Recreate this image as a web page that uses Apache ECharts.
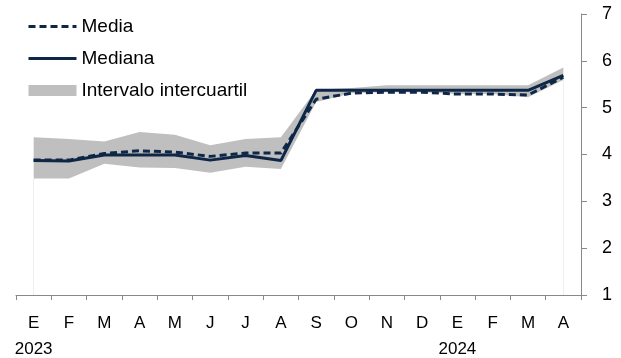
<!DOCTYPE html>
<html>
<head>
<meta charset="utf-8">
<script src="https://cdn.jsdelivr.net/npm/echarts@6/dist/echarts.min.js"></script>
<style>
  html, body { margin: 0; padding: 0; background: #fff; }
  #chart { width: 621px; height: 358px; }
</style>
</head>
<body>
<div id="chart"></div>
<script>
// meses ene-2023 a abr-2024
var months = ['E', 'F', 'M', 'A', 'M', 'J', 'J', 'A', 'S', 'O', 'N', 'D', 'E', 'F', 'M', 'A'];
var years = { 0: '2023', 12: '2024' };

var media   = [3.88, 3.88, 4.02, 4.08, 4.05, 3.96, 4.03, 4.03, 5.18, 5.31, 5.33, 5.33, 5.29, 5.29, 5.27, 5.65];
var mediana = [3.87, 3.86, 3.99, 3.99, 3.99, 3.88, 3.98, 3.87, 5.37, 5.37, 5.37, 5.37, 5.37, 5.37, 5.37, 5.69];
var q1      = [3.49, 3.49, 3.80, 3.72, 3.71, 3.61, 3.74, 3.69, 5.12, 5.31, 5.33, 5.33, 5.29, 5.29, 5.22, 5.59];
var q3      = [4.37, 4.33, 4.28, 4.48, 4.42, 4.20, 4.33, 4.37, 5.38, 5.42, 5.48, 5.48, 5.48, 5.48, 5.48, 5.86];

var navy = '#0f2746';
var gris = '#bfbfbf';
var font = 'Liberation Sans';

var rango = q3.map(function (v, i) { return +(v - q1[i]).toFixed(2); });
var last = months.length - 1;

var myChart = echarts.init(document.getElementById('chart'));

var option = {
    animation: false,
    textStyle: { fontFamily: font },
    grid: { left: 16, right: 40, top: 14, bottom: 63, outerBoundsMode: 'none', containLabel: false },
    legend: {
        orient: 'vertical',
        left: 22,
        top: 12,
        itemWidth: 48,
        itemHeight: 11,
        itemGap: 13,
        textStyle: { fontSize: 19, color: '#000', fontFamily: font },
        data: [
            { name: 'Media', itemStyle: { opacity: 0 }, lineStyle: { width: 3 } },
            { name: 'Mediana', itemStyle: { opacity: 0 }, lineStyle: { width: 3 } },
            { name: 'Intervalo intercuartil', icon: 'rect', itemStyle: { color: gris } }
        ]
    },
    xAxis: {
        type: 'category',
        data: months,
        boundaryGap: true,
        axisLine: { lineStyle: { color: '#888', width: 1 } },
        axisTick: { show: true, length: 5, lineStyle: { color: '#888' } },
        axisLabel: {
            color: '#000',
            fontSize: 17,
            margin: 15,
            lineHeight: 26,
            interval: 0,
            formatter: function (v, i) {
                return years[i] ? v + '\n' + years[i] : v;
            }
        },
        splitLine: { show: false }
    },
    yAxis: {
        type: 'value',
        position: 'right',
        min: 1,
        max: 7,
        interval: 1,
        axisLine: { show: true, lineStyle: { color: '#888', width: 1 } },
        axisTick: { show: true, inside: false, length: 6, lineStyle: { color: '#888' } },
        axisLabel: { color: '#000', fontSize: 18, margin: 21 },
        splitLine: { show: false }
    },
    series: [
        {
            name: 'base',
            type: 'line',
            stack: 'iqr',
            data: q1,
            symbol: 'none',
            lineStyle: { width: 0, opacity: 0 },
            areaStyle: { color: 'rgba(0,0,0,0)' },
            silent: true,
            z: 1,
            markLine: {
                silent: true,
                symbol: 'none',
                label: { show: false },
                lineStyle: { color: '#eeeeee', width: 1, type: 'solid' },
                data: [
                    [{ coord: [0, 1] }, { coord: [0, q1[0]] }],
                    [{ coord: [last, 1] }, { coord: [last, q1[last]] }]
                ]
            }
        },
        {
            name: 'Intervalo intercuartil',
            type: 'line',
            stack: 'iqr',
            data: rango,
            symbol: 'none',
            itemStyle: { color: gris },
            lineStyle: { width: 0, opacity: 0 },
            areaStyle: { color: gris, opacity: 1 },
            z: 1
        },
        {
            name: 'Mediana',
            type: 'line',
            data: mediana,
            symbol: 'none',
            itemStyle: { color: navy },
            lineStyle: { color: navy, width: 3 },
            z: 3
        },
        {
            name: 'Media',
            type: 'line',
            data: media,
            symbol: 'none',
            itemStyle: { color: navy },
            lineStyle: { color: navy, width: 3, type: [7, 4] },
            z: 4
        }
    ]
};

myChart.setOption(option);
</script>
</body>
</html>
